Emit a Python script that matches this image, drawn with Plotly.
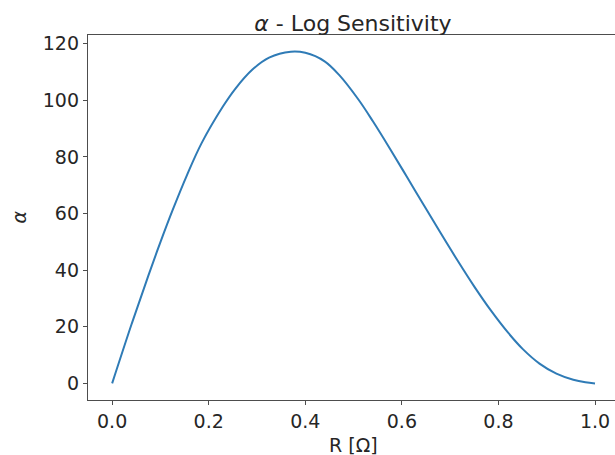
import plotly.graph_objects as go

# Data
R_values = [0.0, 0.04, 0.075, 0.10, 0.125, 0.155, 0.185, 0.23, 0.255, 0.29, 0.325,
            0.37, 0.40, 0.44, 0.47, 0.51, 0.54, 0.575, 0.61, 0.645, 0.68, 0.715, 0.75,
            0.785, 0.82, 0.85, 0.885, 0.92, 0.955, 0.98, 1.0]
alpha_values = [0.0, 20.8, 38.1, 49.9, 61.1, 73.6, 84.8, 98.0, 104.1, 110.8, 115.1,
                117.2, 116.8, 113.8, 109.0, 100.3, 92.6, 83.0, 73.1, 63.1, 53.2, 43.5, 34.2,
                25.6, 17.9, 12.2, 7.0, 3.45, 1.3, 0.4, 0.0]
x_ticks = [0.0, 0.2, 0.4, 0.6, 0.8, 1.0]
x_tick_labels = ["0.0", "0.2", "0.4", "0.6", "0.8", "1.0"]
y_ticks = [0, 20, 40, 60, 80, 100, 120]
y_tick_labels = ["0", "20", "40", "60", "80", "100", "120"]

FONT = "DejaVu Sans"
TXT = "#262626"
AX = "#4d4d4d"

W, H = 640, 455
L, R, T, B = 88, 16, 35, 55
PW, PH = W - L - R, H - T - B

fig = go.Figure()
fig.add_trace(go.Scatter(x=R_values, y=alpha_values, mode="lines",
                         line=dict(color="#2f7bb6", width=2, shape="spline", smoothing=1.0),
                         hoverinfo="skip", showlegend=False))

fig.update_layout(
    width=W, height=H,
    margin=dict(l=L, r=R, t=T, b=B),
    paper_bgcolor="white", plot_bgcolor="white",
    font=dict(family=FONT, color=TXT, size=19),
    title=dict(text="<i>α</i> - Log Sensitivity", x=(353 - L) / PW, xref="paper", xanchor="center",
               y=1 - 23 / H, yanchor="middle", yref="container",
               font=dict(family=FONT, size=22, color=TXT)),
    xaxis=dict(range=[-0.05, 1.06], tickvals=x_ticks, ticktext=x_tick_labels,
               showgrid=False, zeroline=False, showline=True, linecolor=AX, linewidth=1.3,
               mirror=True, ticks="outside", ticklen=4, tickcolor=AX, tickwidth=1.2,
               automargin=False,
               tickfont=dict(family=FONT, size=19, color=TXT)),
    yaxis=dict(range=[-5.87, 123.1], tickvals=y_ticks, ticktext=y_tick_labels,
               showgrid=False, zeroline=False, showline=True, linecolor=AX, linewidth=1.3,
               mirror=False, ticks="outside", ticklen=4, tickcolor=AX, tickwidth=1.2,
               automargin=False,
               tickfont=dict(family=FONT, size=19, color=TXT)),
    annotations=[
        dict(text="R [Ω]", xref="paper", yref="paper", x=(353 - L) / PW, y=-(445 - (T + PH)) / PH,
             xanchor="center", yanchor="middle", showarrow=False,
             font=dict(family=FONT, size=19, color=TXT)),
        dict(text="<i>α</i>", xref="paper", yref="paper", x=-(L - 18) / PW, y=0.5,
             xanchor="center", yanchor="middle", showarrow=False, textangle=-90,
             font=dict(family=FONT, size=19, color=TXT)),
    ],
)

# remove the default page margin and scrollbars so the figure sits at the window origin;
# the figure is a little wider than the window so the right spine falls outside, as in the reference
fig.write_html(
    "out.html",
    config={"displayModeBar": False},
    post_script=(
        "document.documentElement.style.overflow='hidden';"
        "document.body.style.margin='0';"
        "document.body.style.overflow='hidden';"
    ),
)
